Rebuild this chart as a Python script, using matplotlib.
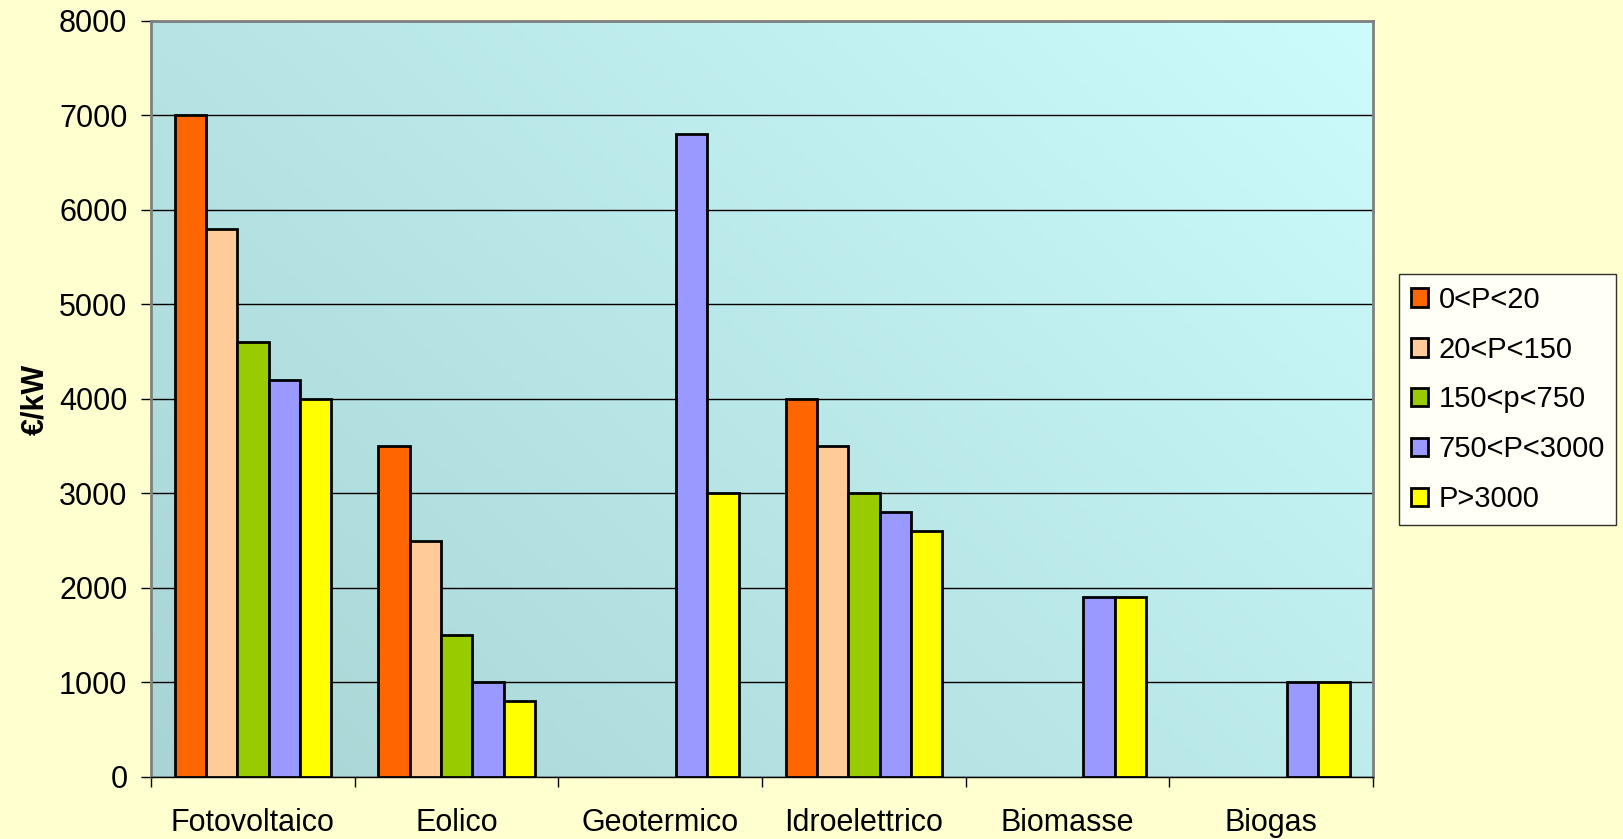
import matplotlib.pyplot as plt
import numpy as np

plt.rcParams['font.family'] = ['Liberation Sans', 'DejaVu Sans']

categories = ['Fotovoltaico', 'Eolico', 'Geotermico', 'Idroelettrico', 'Biomasse', 'Biogas']
series = ['0<P<20', '20<P<150', '150<p<750', '750<P<3000', 'P>3000']
values = {
    '0<P<20':     [7000, 3500, np.nan, 4000, np.nan, np.nan],
    '20<P<150':   [5800, 2500, np.nan, 3500, np.nan, np.nan],
    '150<p<750':  [4600, 1500, np.nan, 3000, np.nan, np.nan],
    '750<P<3000': [4200, 1000, 6800, 2800, 1900, 1000],
    'P>3000':     [4000, 800, 3000, 2600, 1900, 1000],
}
colors = ['#FF6600', '#FFCC99', '#99CC00', '#9999FF', '#FFFF00']
yticks = [0, 1000, 2000, 3000, 4000, 5000, 6000, 7000, 8000]

fig = plt.figure(figsize=(16.24, 8.39), dpi=100)
fig.patch.set_facecolor('#FFFFD0')
ax = fig.add_axes([0.093, 0.0739, 0.7525, 0.9011])

# diagonal gradient background
gx, gy = np.meshgrid(np.linspace(0, 1, 200), np.linspace(0, 1, 200))
t = (gx * 0.6 + gy * 0.4)
c0 = np.array([168, 212, 212]) / 255
c1 = np.array([204, 252, 252]) / 255
img = c0[None, None, :] * (1 - t[..., None]) + c1[None, None, :] * t[..., None]
ax.imshow(img, extent=[0, 1, 0, 1], transform=ax.transAxes, origin='lower',
          aspect='auto', zorder=0)

x = np.arange(len(categories))
w = 1 / 6.5
for i, s in enumerate(series):
    offs = (i - 2) * w
    ax.bar(x + offs, values[s], width=w, color=colors[i], edgecolor='black',
           linewidth=2, label=s, zorder=3)

ax.set_xlim(-0.5, len(categories) - 0.5)
ax.set_ylim(0, 8000)
ax.set_yticks(yticks)
ax.yaxis.grid(True, color='black', linewidth=1)
for ln in ax.get_ygridlines():
    ln.set_zorder(1)

ax.set_xticks(x)
ax.set_xticklabels(categories)
ax.set_xticks(np.arange(-0.5, len(categories)), minor=True)
ax.tick_params(axis='x', which='major', length=0, pad=22, labelsize=22)
ax.tick_params(axis='x', which='minor', length=7, width=1, direction='out')
ax.tick_params(axis='y', length=7, width=1, pad=10, labelsize=22)

for side in ['left', 'top', 'right']:
    ax.spines[side].set_color('#808080')
    ax.spines[side].set_linewidth(2)
ax.spines['bottom'].set_color('black')
ax.spines['bottom'].set_linewidth(1)

ax.set_ylabel('€/kW', fontsize=22, fontweight='bold', labelpad=6)

leg = fig.legend(loc='upper left', bbox_to_anchor=(0.8615, 0.6734),
                 fontsize=21, frameon=True, fancybox=False, edgecolor='black',
                 handlelength=0.6, handleheight=0.6, handletextpad=0.35,
                 labelspacing=0.75, borderpad=0.4, borderaxespad=0)
leg.get_frame().set_linewidth(1)
leg.get_frame().set_facecolor('white')

fig.savefig('out.png', dpi=100, facecolor=fig.get_facecolor())
